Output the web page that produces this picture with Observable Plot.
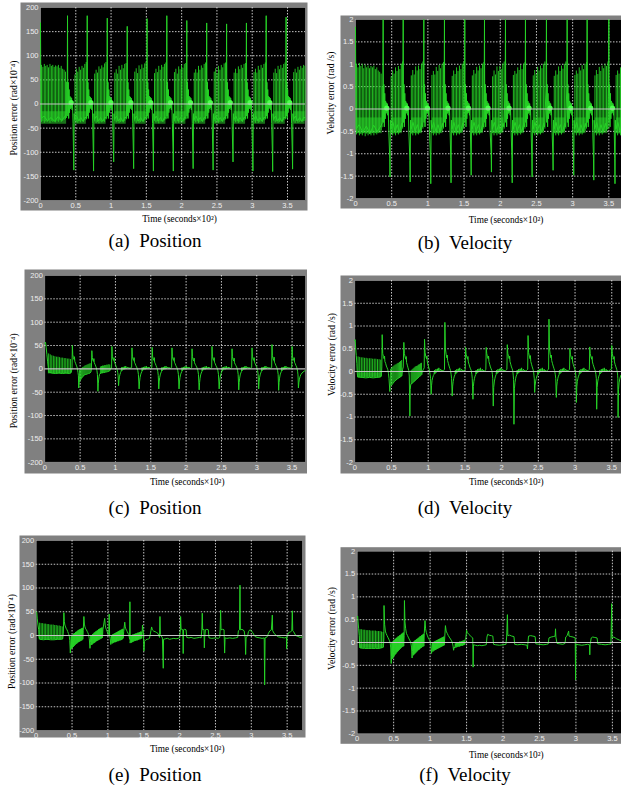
<!DOCTYPE html>
<html><head><meta charset="utf-8">
<script src="https://cdn.jsdelivr.net/npm/d3@7"></script>
<script src="https://cdn.jsdelivr.net/npm/@observablehq/plot@0.6"></script>
<style>
html,body{margin:0;padding:0;background:#fff;width:621px;height:794px;overflow:hidden;position:relative}
.panel{position:absolute}
.panel svg{max-width:none!important;display:block}
.cap{position:absolute;font-family:"Liberation Serif","Times New Roman",serif;font-size:19px;line-height:20px;color:#000;white-space:pre;transform:translateX(-50%)}
</style></head><body>
<script>
// ---------- tick values / labels ----------
const xTicks = [0, 0.5, 1, 1.5, 2, 2.5, 3, 3.5];
const xGrid = [0.5, 1, 1.5, 2, 2.5, 3, 3.5];
const posTicks = [-200, -150, -100, -50, 0, 50, 100, 150, 200];
const posGrid = [-150, -100, -50, 50, 100, 150];
const velTicks = [-2, -1.5, -1, -0.5, 0, 0.5, 1, 1.5, 2];
const velGrid = [-1.5, -1, -0.5, 0.5, 1, 1.5];
const posLabel = "Position error (rad×10⁻⁴)";
const velLabel = "Velocity error (rad /s)";
const timeLabel = "Time (seconds×10²)";
const captions = ["(a)  Position", "(b)  Velocity", "(c)  Position", "(d)  Velocity", "(e)  Position", "(f)  Velocity"];

// ---------- (a) position error: main trace [time x10^2 s, value x10^-4 rad] ----------
const posA = [
[0,168],[0.004,60],[0.008,-30],[0.05,-25],[0.1,-35],[0.15,-28],[0.2,-36],[0.25,-26],[0.3,-34],[0.35,-25],[0.372,-20],
[0.379,40],[0.383,183],[0.387,-25],[0.393,45],[0.399,-30],[0.405,30],[0.411,-18],[0.417,16],[0.423,-10],[0.429,14],[0.435,-8],[0.441,12],[0.447,-12],[0.453,5],[0.461,-40],[0.468,-100],[0.472,-137],[0.477,-20],[0.484,-32],[0.512,-25],[0.542,-35],[0.572,-28],[0.602,-36],[0.632,-27],[0.652,-30],
[0.658,40],[0.662,183],[0.666,-25],[0.672,45],[0.678,-30],[0.684,30],[0.69,-18],[0.696,16],[0.702,-10],[0.708,14],[0.714,-8],[0.72,12],[0.726,-12],[0.732,5],[0.74,-40],[0.748,-100],[0.752,-139],[0.757,-20],[0.764,-32],[0.792,-25],[0.822,-35],[0.852,-28],[0.882,-36],[0.912,-27],[0.932,-30],
[0.942,40],[0.946,178],[0.95,-25],[0.956,45],[0.962,-30],[0.968,30],[0.974,-18],[0.98,16],[0.986,-10],[0.992,14],[0.998,-8],[1.004,12],[1.01,-12],[1.016,5],[1.024,-40],[1.033,-95],[1.037,-120],[1.042,-20],[1.049,-32],[1.077,-25],[1.107,-35],[1.137,-28],[1.167,-36],[1.197,-27],[1.217,-30],
[1.225,40],[1.229,161],[1.233,-25],[1.239,45],[1.245,-30],[1.251,30],[1.257,-18],[1.263,16],[1.269,-10],[1.275,14],[1.281,-8],[1.287,12],[1.293,-12],[1.299,5],[1.307,-40],[1.316,-100],[1.32,-134],[1.325,-20],[1.332,-32],[1.36,-25],[1.39,-35],[1.42,-28],[1.45,-36],[1.48,-27],[1.5,-30],
[1.506,40],[1.51,177],[1.514,-25],[1.52,45],[1.526,-30],[1.532,30],[1.538,-18],[1.544,16],[1.55,-10],[1.556,14],[1.562,-8],[1.568,12],[1.574,-12],[1.58,5],[1.588,-40],[1.596,-100],[1.6,-139],[1.605,-20],[1.612,-32],[1.64,-25],[1.67,-35],[1.7,-28],[1.73,-36],[1.76,-27],[1.78,-30],
[1.786,40],[1.79,183],[1.794,-25],[1.8,45],[1.806,-30],[1.812,30],[1.818,-18],[1.824,16],[1.83,-10],[1.836,14],[1.842,-8],[1.848,12],[1.854,-12],[1.86,5],[1.868,-40],[1.878,-100],[1.882,-139],[1.887,-20],[1.894,-32],[1.922,-25],[1.952,-35],[1.982,-28],[2.012,-36],[2.042,-27],[2.062,-30],
[2.069,40],[2.073,173],[2.077,-25],[2.083,45],[2.089,-30],[2.095,30],[2.101,-18],[2.107,16],[2.113,-10],[2.119,14],[2.125,-8],[2.131,12],[2.137,-12],[2.143,5],[2.151,-40],[2.159,-100],[2.163,-134],[2.168,-20],[2.175,-32],[2.203,-25],[2.233,-35],[2.263,-28],[2.293,-36],[2.323,-27],[2.343,-30],
[2.351,40],[2.355,168],[2.359,-25],[2.365,45],[2.371,-30],[2.377,30],[2.383,-18],[2.389,16],[2.395,-10],[2.401,14],[2.407,-8],[2.413,12],[2.419,-12],[2.425,5],[2.433,-40],[2.442,-100],[2.446,-137],[2.451,-20],[2.458,-32],[2.486,-25],[2.516,-35],[2.546,-28],[2.576,-36],[2.606,-27],[2.626,-30],
[2.633,40],[2.637,166],[2.641,-25],[2.647,45],[2.653,-30],[2.659,30],[2.665,-18],[2.671,16],[2.677,-10],[2.683,14],[2.689,-8],[2.695,12],[2.701,-12],[2.707,5],[2.715,-40],[2.724,-95],[2.728,-120],[2.733,-20],[2.74,-32],[2.768,-25],[2.798,-35],[2.828,-28],[2.858,-36],[2.888,-27],[2.908,-30],
[2.914,40],[2.918,168],[2.922,-25],[2.928,45],[2.934,-30],[2.94,30],[2.946,-18],[2.952,16],[2.958,-10],[2.964,14],[2.97,-8],[2.976,12],[2.982,-12],[2.988,5],[2.996,-40],[3.006,-100],[3.01,-139],[3.015,-20],[3.022,-32],[3.05,-25],[3.08,-35],[3.11,-28],[3.14,-36],[3.17,-27],[3.19,-30],
[3.194,40],[3.198,183],[3.202,-25],[3.208,45],[3.214,-30],[3.22,30],[3.226,-18],[3.232,16],[3.238,-10],[3.244,14],[3.25,-8],[3.256,12],[3.262,-12],[3.268,5],[3.276,-40],[3.286,-100],[3.29,-140],[3.295,-20],[3.302,-32],[3.33,-25],[3.36,-35],[3.39,-28],[3.42,-36],[3.45,-27],[3.47,-30],
[3.476,40],[3.48,180],[3.484,-25],[3.49,45],[3.496,-30],[3.502,30],[3.508,-18],[3.514,16],[3.52,-10],[3.526,14],[3.532,-8],[3.538,12],[3.544,-12],[3.55,5],[3.558,-40],[3.568,-100],[3.572,-135],[3.577,-20],[3.584,-32],[3.612,-25],[3.642,-35],[3.672,-28],[3.702,-36],[3.732,-27],[3.752,-30]
];
// (a) oscillation spikes: [time, low, high]
const spikesA = [
[0.014,-38,80],[0.034,-36,76],[0.054,-40,82],[0.074,-37,78],[0.094,-38,80],[0.114,-35,75],[0.134,-40,82],[0.154,-36,78],[0.174,-38,80],[0.194,-37,76],[0.214,-39,79],[0.234,-36,77],[0.254,-38,80],[0.274,-35,74],[0.294,-38,78],[0.314,-36,72],[0.334,-34,70],[0.354,-32,66],[0.368,-30,45],
[0.488,-36,60],[0.508,-38,72],[0.528,-40,66],[0.548,-37,76],[0.568,-39,70],[0.588,-36,78],[0.608,-38,74],[0.628,-35,82],[0.648,-33,86],
[0.768,-37,62],[0.788,-40,70],[0.808,-38,64],[0.828,-41,77],[0.848,-37,72],[0.868,-39,79],[0.888,-36,75],[0.908,-38,83],[0.928,-33,86],
[1.053,-36,64],[1.073,-39,71],[1.093,-37,62],[1.113,-40,78],[1.133,-38,70],[1.153,-37,80],[1.173,-39,73],[1.193,-36,82],[1.213,-33,84],
[1.336,-37,66],[1.356,-40,73],[1.376,-37,63],[1.396,-40,79],[1.416,-38,71],[1.436,-36,81],[1.456,-38,74],[1.476,-35,83],[1.496,-33,86],
[1.616,-36,63],[1.636,-39,72],[1.656,-37,65],[1.676,-41,78],[1.696,-37,70],[1.716,-37,80],[1.736,-38,76],[1.756,-35,82],[1.776,-33,85],
[1.898,-37,65],[1.918,-40,72],[1.938,-37,62],[1.958,-40,77],[1.978,-38,71],[1.998,-36,80],[2.018,-38,74],[2.038,-35,82],[2.058,-33,84],
[2.179,-36,64],[2.199,-39,71],[2.219,-37,64],[2.239,-40,78],[2.259,-38,70],[2.279,-36,79],[2.299,-38,74],[2.319,-35,82],[2.339,-33,85],
[2.462,-37,66],[2.482,-40,73],[2.502,-36,63],[2.522,-40,78],[2.542,-38,70],[2.562,-36,80],[2.582,-38,75],[2.602,-35,83],[2.622,-33,85],
[2.744,-36,64],[2.764,-39,72],[2.784,-37,63],[2.804,-40,77],[2.824,-38,71],[2.844,-36,80],[2.864,-38,74],[2.884,-35,82],[2.904,-33,84],
[3.026,-37,65],[3.046,-40,72],[3.066,-36,64],[3.086,-40,78],[3.106,-38,70],[3.126,-36,80],[3.146,-38,74],[3.166,-35,82],[3.186,-33,85],
[3.306,-36,64],[3.326,-39,72],[3.346,-37,63],[3.366,-40,78],[3.386,-38,71],[3.406,-36,80],[3.426,-38,74],[3.446,-35,82],[3.466,-33,85],
[3.588,-37,65],[3.608,-40,72],[3.628,-36,64],[3.648,-40,76],[3.668,-38,70],[3.688,-36,78],[3.708,-38,74],[3.728,-36,80],[3.748,-36,78]
];
// dense lower band of (a): [t1, t2, low, high]
const lowBandA = [[0.01,0.37,-42,-16],[0.49,0.65,-42,-16],[0.77,0.93,-42,-16],[1.055,1.215,-42,-16],[1.34,1.498,-42,-16],[1.62,1.778,-42,-16],[1.9,2.06,-42,-16],[2.18,2.341,-42,-16],[2.465,2.624,-42,-16],[2.745,2.906,-42,-16],[3.03,3.188,-42,-16],[3.31,3.468,-42,-16],[3.59,3.75,-42,-16]];
const blobA = [[0.435,3],[0.714,3],[0.998,3],[1.281,3],[1.562,3],[1.842,3],[2.125,3],[2.407,3],[2.689,3],[2.97,3],[3.25,3],[3.532,3]];

// ---------- (b) velocity error: main trace [time, rad/s] ----------
const velB = [
[0,1.83],[0.004,0.6],[0.008,-0.45],[0.05,-0.35],[0.1,-0.52],[0.15,-0.38],[0.2,-0.55],[0.25,-0.36],[0.3,-0.5],[0.35,-0.38],[0.372,-0.3],
[0.378,0.5],[0.382,2],[0.386,-0.3],[0.392,0.55],[0.398,-0.4],[0.404,0.35],[0.41,-0.22],[0.416,0.18],[0.422,-0.1],[0.428,0.14],[0.434,-0.08],[0.44,0.12],[0.446,-0.14],[0.452,0.05],[0.46,-0.5],[0.473,-1.1],[0.477,-1.52],[0.482,-0.25],[0.489,-0.45],[0.517,-0.3],[0.547,-0.5],[0.577,-0.35],[0.607,-0.52],[0.637,-0.32],[0.649,-0.4],
[0.655,0.5],[0.659,2],[0.663,-0.3],[0.669,0.55],[0.675,-0.4],[0.681,0.35],[0.687,-0.22],[0.693,0.18],[0.699,-0.1],[0.705,0.14],[0.711,-0.08],[0.717,0.12],[0.723,-0.14],[0.729,0.05],[0.737,-0.5],[0.751,-1.15],[0.755,-1.63],[0.76,-0.25],[0.767,-0.45],[0.795,-0.3],[0.825,-0.5],[0.855,-0.35],[0.885,-0.52],[0.915,-0.32],[0.927,-0.4],
[0.94,0.5],[0.944,2],[0.948,-0.3],[0.954,0.55],[0.96,-0.4],[0.966,0.35],[0.972,-0.22],[0.978,0.18],[0.984,-0.1],[0.99,0.14],[0.996,-0.08],[1.002,0.12],[1.008,-0.14],[1.014,0.05],[1.022,-0.5],[1.036,-1.1],[1.04,-1.67],[1.045,-0.25],[1.052,-0.45],[1.08,-0.3],[1.11,-0.5],[1.14,-0.35],[1.17,-0.52],[1.2,-0.32],[1.212,-0.4],
[1.225,0.5],[1.229,2],[1.233,-0.3],[1.239,0.55],[1.245,-0.4],[1.251,0.35],[1.257,-0.22],[1.263,0.18],[1.269,-0.1],[1.275,0.14],[1.281,-0.08],[1.287,0.12],[1.293,-0.14],[1.299,0.05],[1.307,-0.5],[1.316,-1.1],[1.32,-1.65],[1.325,-0.25],[1.332,-0.45],[1.36,-0.3],[1.39,-0.5],[1.42,-0.35],[1.45,-0.52],[1.48,-0.32],[1.492,-0.4],
[1.506,0.5],[1.51,2],[1.514,-0.3],[1.52,0.55],[1.526,-0.4],[1.532,0.35],[1.538,-0.22],[1.544,0.18],[1.55,-0.1],[1.556,0.14],[1.562,-0.08],[1.568,0.12],[1.574,-0.14],[1.58,0.05],[1.587,-0.5],[1.594,-1.05],[1.598,-1.48],[1.603,-0.25],[1.61,-0.45],[1.638,-0.3],[1.668,-0.5],[1.698,-0.35],[1.728,-0.52],[1.758,-0.32],[1.77,-0.4],
[1.778,0.5],[1.782,2],[1.786,-0.3],[1.792,0.55],[1.798,-0.4],[1.804,0.35],[1.81,-0.22],[1.816,0.18],[1.822,-0.1],[1.828,0.14],[1.834,-0.08],[1.84,0.12],[1.846,-0.14],[1.852,0.05],[1.86,-0.5],[1.874,-1.0],[1.878,-1.41],[1.883,-0.25],[1.89,-0.45],[1.918,-0.3],[1.948,-0.5],[1.978,-0.35],[2.008,-0.52],[2.038,-0.32],[2.05,-0.4],
[2.068,0.5],[2.072,2],[2.076,-0.3],[2.082,0.55],[2.088,-0.4],[2.094,0.35],[2.1,-0.22],[2.106,0.18],[2.112,-0.1],[2.118,0.14],[2.124,-0.08],[2.13,0.12],[2.136,-0.14],[2.142,0.05],[2.15,-0.5],[2.161,-1.1],[2.165,-1.65],[2.17,-0.25],[2.177,-0.45],[2.205,-0.3],[2.235,-0.5],[2.265,-0.35],[2.295,-0.52],[2.325,-0.32],[2.337,-0.4],
[2.344,0.5],[2.348,2],[2.352,-0.3],[2.358,0.55],[2.364,-0.4],[2.37,0.35],[2.376,-0.22],[2.382,0.18],[2.388,-0.1],[2.394,0.14],[2.4,-0.08],[2.406,0.12],[2.412,-0.14],[2.418,0.05],[2.426,-0.5],[2.436,-1.1],[2.44,-1.52],[2.445,-0.25],[2.452,-0.45],[2.48,-0.3],[2.51,-0.5],[2.54,-0.35],[2.57,-0.52],[2.6,-0.32],[2.612,-0.4],
[2.634,0.5],[2.638,2],[2.642,-0.3],[2.648,0.55],[2.654,-0.4],[2.66,0.35],[2.666,-0.22],[2.672,0.18],[2.678,-0.1],[2.684,0.14],[2.69,-0.08],[2.696,0.12],[2.702,-0.14],[2.708,0.05],[2.716,-0.5],[2.726,-1.0],[2.73,-1.37],[2.735,-0.25],[2.742,-0.45],[2.77,-0.3],[2.8,-0.5],[2.83,-0.35],[2.86,-0.52],[2.89,-0.32],[2.902,-0.4],
[2.92,0.5],[2.924,2],[2.928,-0.3],[2.934,0.55],[2.94,-0.4],[2.946,0.35],[2.952,-0.22],[2.958,0.18],[2.964,-0.1],[2.97,0.14],[2.976,-0.08],[2.982,0.12],[2.988,-0.14],[2.994,0.05],[3.002,-0.5],[3.011,-1.05],[3.015,-1.48],[3.02,-0.25],[3.027,-0.45],[3.055,-0.3],[3.085,-0.5],[3.115,-0.35],[3.145,-0.52],[3.175,-0.32],[3.187,-0.4],
[3.196,0.5],[3.2,2],[3.204,-0.3],[3.21,0.55],[3.216,-0.4],[3.222,0.35],[3.228,-0.22],[3.234,0.18],[3.24,-0.1],[3.246,0.14],[3.252,-0.08],[3.258,0.12],[3.264,-0.14],[3.27,0.05],[3.278,-0.5],[3.288,-1.1],[3.292,-1.59],[3.297,-0.25],[3.304,-0.45],[3.332,-0.3],[3.362,-0.5],[3.392,-0.35],[3.422,-0.52],[3.452,-0.32],[3.464,-0.4],[3.485,-0.45],
[3.496,0.5],[3.5,2],[3.504,-0.3],[3.51,0.55],[3.516,-0.4],[3.522,0.35],[3.528,-0.22],[3.534,0.18],[3.54,-0.1],[3.546,0.14],[3.552,-0.08],[3.558,0.12],[3.564,-0.14],[3.57,0.05],[3.575,-0.5],[3.581,-1.1],[3.585,-1.67],[3.59,-0.25],[3.597,-0.45],[3.625,-0.3],[3.655,-0.5],[3.685,-0.35],[3.715,-0.52],[3.745,-0.32]
];
// (b) oscillation spikes: [time, low, high]
const spikesB = [
[0.014,-0.58,1.0],[0.034,-0.55,0.92],[0.054,-0.6,1.02],[0.074,-0.57,0.95],[0.094,-0.6,1.0],[0.114,-0.55,0.9],[0.134,-0.62,0.98],[0.154,-0.56,0.92],[0.174,-0.6,0.96],[0.194,-0.57,0.9],[0.214,-0.6,0.95],[0.234,-0.55,0.92],[0.254,-0.6,0.96],[0.274,-0.55,0.88],[0.294,-0.58,0.92],[0.314,-0.54,0.85],[0.334,-0.5,0.82],[0.354,-0.48,0.78],[0.368,-0.42,0.5],
[0.493,-0.55,0.72],[0.513,-0.6,0.85],[0.533,-0.56,0.78],[0.553,-0.6,0.92],[0.573,-0.55,0.84],[0.593,-0.58,0.95],[0.613,-0.52,0.88],[0.633,-0.5,1.0],[0.651,-0.45,1.05],
[0.771,-0.56,0.74],[0.791,-0.6,0.86],[0.811,-0.55,0.76],[0.831,-0.6,0.94],[0.851,-0.56,0.85],[0.871,-0.58,0.96],[0.891,-0.53,0.88],[0.911,-0.5,1.0],[0.931,-0.45,1.05],
[1.056,-0.55,0.75],[1.076,-0.6,0.84],[1.096,-0.56,0.76],[1.116,-0.6,0.93],[1.136,-0.55,0.84],[1.156,-0.58,0.97],[1.176,-0.52,0.9],[1.196,-0.5,1.0],[1.216,-0.45,1.04],
[1.336,-0.55,0.73],[1.356,-0.6,0.85],[1.376,-0.55,0.77],[1.396,-0.6,0.92],[1.416,-0.56,0.84],[1.436,-0.58,0.96],[1.456,-0.52,0.88],[1.476,-0.5,1.0],[1.496,-0.45,1.05],
[1.614,-0.55,0.74],[1.634,-0.6,0.86],[1.654,-0.56,0.78],[1.674,-0.6,0.93],[1.694,-0.55,0.85],[1.714,-0.58,0.96],[1.734,-0.53,0.9],[1.754,-0.5,1.0],[1.774,-0.45,1.04],
[1.894,-0.55,0.72],[1.914,-0.6,0.85],[1.934,-0.55,0.76],[1.954,-0.6,0.94],[1.974,-0.56,0.84],[1.994,-0.58,0.95],[2.014,-0.52,0.88],[2.034,-0.5,1.0],[2.054,-0.45,1.05],
[2.181,-0.55,0.75],[2.201,-0.6,0.84],[2.221,-0.56,0.78],[2.241,-0.6,0.92],[2.261,-0.55,0.86],[2.281,-0.58,0.97],[2.301,-0.52,0.88],[2.321,-0.5,1.0],[2.341,-0.45,1.04],
[2.456,-0.55,0.74],[2.476,-0.6,0.86],[2.496,-0.55,0.77],[2.516,-0.6,0.93],[2.536,-0.56,0.85],[2.556,-0.58,0.96],[2.576,-0.53,0.9],[2.596,-0.5,1.0],[2.616,-0.45,1.05],
[2.746,-0.55,0.73],[2.766,-0.6,0.85],[2.786,-0.56,0.76],[2.806,-0.6,0.94],[2.826,-0.55,0.84],[2.846,-0.58,0.96],[2.866,-0.52,0.89],[2.886,-0.5,1.0],[2.906,-0.45,1.05],
[3.031,-0.55,0.75],[3.051,-0.6,0.85],[3.071,-0.55,0.78],[3.091,-0.6,0.92],[3.111,-0.56,0.85],[3.131,-0.58,0.97],[3.151,-0.53,0.88],[3.171,-0.5,1.0],[3.191,-0.45,1.04],
[3.308,-0.55,0.74],[3.328,-0.6,0.86],[3.348,-0.56,0.77],[3.368,-0.6,0.93],[3.388,-0.55,0.84],[3.408,-0.58,0.96],[3.428,-0.52,0.9],[3.448,-0.5,1.0],[3.468,-0.5,0.95],[3.488,-0.45,1.05],
[3.601,-0.55,0.75],[3.621,-0.6,0.85],[3.641,-0.56,0.78],[3.661,-0.6,0.92],[3.681,-0.55,0.85],[3.701,-0.58,0.95],[3.721,-0.53,0.9],[3.741,-0.5,0.98]
];
const lowBandB = [[0.01,0.37,-0.55,-0.2],[0.497,0.647,-0.55,-0.2],[0.775,0.925,-0.55,-0.2],[1.06,1.21,-0.55,-0.2],[1.34,1.49,-0.55,-0.2],[1.618,1.768,-0.55,-0.2],[1.898,2.048,-0.55,-0.2],[2.185,2.335,-0.55,-0.2],[2.46,2.61,-0.55,-0.2],[2.75,2.9,-0.55,-0.2],[3.035,3.185,-0.55,-0.2],[3.312,3.485,-0.55,-0.2],[3.605,3.745,-0.55,-0.2]];
const blobB = [[0.432,0.02],[0.709,0.02],[0.994,0.02],[1.279,0.02],[1.56,0.02],[1.832,0.02],[2.122,0.02],[2.398,0.02],[2.688,0.02],[2.974,0.02],[3.25,0.02],[3.55,0.02]];

// ---------- (c) position error ----------
const posC = [
[0,55],[0.01,57],[0.02,45],[0.03,30],[0.04,15],[0.05,2],[0.06,-7],[0.1,-9],[0.15,-10],[0.2,-9],[0.25,-10],[0.3,-9],[0.35,-10],[0.375,-8],
[0.385,2],[0.39,50],[0.396,30],[0.405,24],[0.415,20],[0.42,26],[0.425,16],[0.435,12],[0.445,8],[0.455,4],[0.463,0],[0.47,-8],[0.476,-15],[0.48,-41],
[0.485,-30],[0.5,-25],[0.52,-20],[0.54,-16],[0.56,-13],[0.58,-12],[0.6,-11],[0.62,-10],[0.64,-9],[0.655,-6],[0.66,2],
[0.666,39],[0.672,24],[0.68,19],[0.69,16],[0.695,22],[0.7,13],[0.71,10],[0.72,6],[0.73,2],[0.738,-4],[0.745,-12],[0.752,-48],
[0.757,-32],[0.763,-22],[0.769,-16],[0.775,-12],[0.781,-10],[0.8,-9],[0.83,-8],[0.86,-7],[0.89,-6],[0.92,-4],[0.935,2],[0.945,1],
[0.95,48],[0.956,27],[0.965,21],[0.975,18],[0.98,24],[0.985,14],[0.995,11],[1.005,7],[1.015,3],[1.025,-2],[1.033,-8],[1.038,-15],[1.044,-36],
[1.05,-25],[1.056,-17],[1.064,-12],[1.072,-8],[1.081,-5],[1.086,3],[1.091,-4],[1.101,-2],[1.106,4],[1.111,-1],[1.121,0],[1.126,5],[1.131,-1],[1.141,2],[1.146,6],[1.151,0],[1.161,2],[1.171,4],[1.181,1],[1.191,3],[1.201,0],[1.211,2],[1.229,3],
[1.234,45],[1.24,27],[1.249,21],[1.259,18],[1.264,24],[1.269,14],[1.279,11],[1.289,7],[1.299,4],[1.309,1],[1.317,-4],[1.325,-12],[1.335,-43],
[1.341,-28],[1.348,-19],[1.356,-13],[1.364,-9],[1.373,-6],[1.378,3],[1.383,-4],[1.393,-2],[1.398,4],[1.403,-1],[1.413,0],[1.418,5],[1.423,-1],[1.433,2],[1.438,6],[1.443,0],[1.453,2],[1.463,4],[1.473,1],[1.483,3],[1.493,0],[1.503,2],[1.515,3],
[1.52,46],[1.526,27],[1.535,21],[1.545,18],[1.55,24],[1.555,14],[1.565,11],[1.575,7],[1.585,3],[1.593,0],[1.6,-6],[1.606,-14],[1.613,-43],
[1.619,-28],[1.626,-19],[1.634,-13],[1.642,-9],[1.651,-6],[1.656,3],[1.661,-4],[1.671,-2],[1.676,4],[1.681,-1],[1.691,0],[1.696,5],[1.701,-1],[1.711,2],[1.716,6],[1.721,0],[1.731,2],[1.741,4],[1.751,1],[1.761,3],[1.771,0],[1.781,2],[1.795,3],
[1.8,45],[1.806,27],[1.815,21],[1.825,18],[1.83,24],[1.835,14],[1.845,11],[1.855,7],[1.865,4],[1.875,1],[1.883,-4],[1.891,-12],[1.9,-43],
[1.906,-28],[1.913,-19],[1.921,-13],[1.929,-9],[1.938,-6],[1.943,3],[1.948,-4],[1.958,-2],[1.963,4],[1.968,-1],[1.978,0],[1.983,5],[1.988,-1],[1.998,2],[2.003,6],[2.008,0],[2.018,2],[2.028,4],[2.038,1],[2.048,3],[2.058,0],[2.068,2],[2.079,3],
[2.084,43],[2.09,26],[2.099,20],[2.109,17],[2.114,23],[2.119,13],[2.129,10],[2.139,7],[2.149,4],[2.159,1],[2.167,-4],[2.175,-12],[2.185,-45],
[2.191,-29],[2.198,-20],[2.206,-13],[2.214,-9],[2.223,-6],[2.228,3],[2.233,-4],[2.243,-2],[2.248,4],[2.253,-1],[2.263,0],[2.268,5],[2.273,-1],[2.283,2],[2.288,6],[2.293,0],[2.303,2],[2.313,4],[2.323,1],[2.333,3],[2.343,0],[2.353,2],[2.362,3],
[2.367,48],[2.373,27],[2.382,21],[2.392,18],[2.397,24],[2.402,14],[2.412,11],[2.422,7],[2.432,4],[2.442,1],[2.45,-4],[2.458,-12],[2.468,-43],
[2.474,-28],[2.481,-19],[2.489,-13],[2.497,-9],[2.506,-6],[2.511,3],[2.516,-4],[2.526,-2],[2.531,4],[2.536,-1],[2.546,0],[2.551,5],[2.556,-1],[2.566,2],[2.571,6],[2.576,0],[2.586,2],[2.596,4],[2.606,1],[2.616,3],[2.626,0],[2.636,2],[2.645,3],
[2.65,43],[2.656,26],[2.665,20],[2.675,17],[2.68,23],[2.685,13],[2.695,10],[2.705,7],[2.715,4],[2.723,1],[2.73,-4],[2.737,-12],[2.745,-45],
[2.751,-29],[2.758,-20],[2.766,-13],[2.774,-9],[2.783,-6],[2.788,3],[2.793,-4],[2.803,-2],[2.808,4],[2.813,-1],[2.823,0],[2.828,5],[2.833,-1],[2.843,2],[2.848,6],[2.853,0],[2.863,2],[2.873,4],[2.883,1],[2.893,3],[2.903,0],[2.913,2],[2.928,3],
[2.933,45],[2.939,27],[2.948,21],[2.958,18],[2.963,24],[2.968,14],[2.978,11],[2.988,7],[2.998,4],[3.006,1],[3.013,-4],[3.02,-12],[3.027,-43],
[3.033,-28],[3.04,-19],[3.048,-13],[3.056,-9],[3.065,-6],[3.07,3],[3.075,-4],[3.085,-2],[3.09,4],[3.095,-1],[3.105,0],[3.11,5],[3.115,-1],[3.125,2],[3.13,6],[3.135,0],[3.145,2],[3.155,4],[3.165,1],[3.175,3],[3.185,0],[3.195,2],[3.211,3],
[3.216,52],[3.222,28],[3.231,22],[3.241,18],[3.246,25],[3.251,14],[3.261,11],[3.271,7],[3.281,4],[3.289,1],[3.296,-4],[3.303,-12],[3.31,-46],
[3.316,-29],[3.323,-20],[3.331,-13],[3.339,-9],[3.348,-6],[3.353,3],[3.358,-4],[3.368,-2],[3.373,4],[3.378,-1],[3.388,0],[3.393,5],[3.398,-1],[3.408,2],[3.413,6],[3.418,0],[3.428,2],[3.438,4],[3.448,1],[3.458,3],[3.468,0],[3.478,2],[3.495,3],
[3.5,48],[3.506,27],[3.515,21],[3.525,18],[3.53,24],[3.535,14],[3.545,11],[3.555,7],[3.565,4],[3.572,0],[3.578,-5],[3.584,-13],[3.59,-41],
[3.596,-30],[3.604,-22],[3.614,-16],[3.626,-12],[3.64,-9],[3.655,-7],[3.67,-5],[3.685,-4]
];
const spikesC = [
[0.055,-10,32],[0.077,-10,30],[0.099,-10,28],[0.121,-10,27],[0.143,-10,26],[0.165,-10,25],[0.187,-10,25],[0.209,-10,24],[0.231,-10,23],[0.253,-10,23],[0.275,-10,22],[0.297,-10,22],[0.319,-10,21],[0.341,-10,21],[0.363,-10,20],
[0.492,-28,-3],[0.507,-24,-1],[0.522,-21,1],[0.537,-18,3],[0.552,-16,4],[0.567,-14,6],[0.582,-13,7],[0.597,-12,8],[0.612,-11,9],[0.627,-10,10],[0.642,-9,11],
[0.787,-11,4],[0.802,-10,5],[0.817,-10,6],[0.832,-9,6],[0.847,-9,7],[0.862,-8,7],[0.877,-7,8],[0.892,-7,8],[0.907,-6,9],[0.92,-5,8]
];
const lowBandC = [[0.05,0.375,-11,-3]];

// ---------- (d) velocity error ----------
const velD = [
[0,0.68],[0.005,0.7],[0.012,0.5],[0.02,0.35],[0.028,0.18],[0.034,-0.05],[0.04,-0.12],[0.1,-0.13],[0.15,-0.14],[0.2,-0.13],[0.25,-0.14],[0.3,-0.13],[0.35,-0.12],[0.362,-0.1],[0.368,0.1],
[0.373,0.81],[0.38,0.4],[0.39,0.33],[0.4,0.28],[0.405,0.34],[0.41,0.22],[0.42,0.18],[0.43,0.12],[0.44,0.08],[0.45,0.04],[0.458,-0.04],[0.466,-0.15],[0.477,-0.44],
[0.482,-0.33],[0.5,-0.3],[0.52,-0.26],[0.54,-0.22],[0.56,-0.19],[0.58,-0.16],[0.6,-0.14],[0.62,-0.12],[0.64,-0.1],[0.652,0.05],[0.66,0.1],
[0.668,0.64],[0.675,0.4],[0.685,0.32],[0.695,0.27],[0.7,0.33],[0.705,0.2],[0.715,0.14],[0.725,0.08],[0.735,0.02],[0.742,-0.1],[0.75,-0.98],
[0.755,-0.4],[0.762,-0.28],[0.78,-0.26],[0.8,-0.23],[0.82,-0.2],[0.84,-0.17],[0.86,-0.14],[0.88,-0.11],[0.9,-0.09],[0.912,-0.07],[0.92,0.0],[0.935,0.05],[0.945,0.08],
[0.95,0.71],[0.957,0.42],[0.967,0.33],[0.977,0.28],[0.982,0.34],[0.987,0.22],[0.997,0.15],[1.007,0.09],[1.017,0.03],[1.025,-0.06],[1.032,-0.15],[1.04,-0.5],
[1.046,-0.3],[1.052,-0.2],[1.06,-0.14],[1.07,-0.09],[1.08,-0.06],[1.085,0.03],[1.09,-0.05],[1.1,-0.03],[1.105,0.05],[1.11,-0.02],[1.12,0],[1.125,0.06],[1.13,-0.01],[1.14,0.02],[1.145,0.08],[1.15,0],[1.16,0.02],[1.17,0.05],[1.18,0.01],[1.19,0.03],[1.2,0],[1.21,0.02],[1.222,0.05],
[1.227,1.08],[1.234,0.5],[1.244,0.38],[1.254,0.3],[1.259,0.36],[1.264,0.24],[1.274,0.18],[1.284,0.12],[1.294,0.07],[1.304,0.02],[1.312,-0.06],[1.318,-0.15],[1.327,-0.54],
[1.333,-0.32],[1.34,-0.22],[1.348,-0.15],[1.356,-0.1],[1.365,-0.07],[1.37,0.03],[1.375,-0.05],[1.385,-0.03],[1.39,0.05],[1.395,-0.02],[1.405,0],[1.41,0.06],[1.415,-0.01],[1.425,0.02],[1.43,0.08],[1.435,0],[1.445,0.02],[1.455,0.05],[1.465,0.01],[1.475,0.03],[1.485,0],[1.495,0.02],[1.504,0.05],
[1.509,0.53],[1.516,0.38],[1.526,0.32],[1.536,0.27],[1.541,0.33],[1.546,0.21],[1.556,0.16],[1.566,0.1],[1.576,0.06],[1.586,0.02],[1.594,-0.06],[1.6,-0.15],[1.609,-0.61],
[1.615,-0.33],[1.622,-0.22],[1.63,-0.15],[1.638,-0.1],[1.647,-0.07],[1.652,0.03],[1.657,-0.05],[1.667,-0.03],[1.672,0.05],[1.677,-0.02],[1.687,0],[1.692,0.06],[1.697,-0.01],[1.707,0.02],[1.712,0.08],[1.717,0],[1.727,0.02],[1.737,0.05],[1.747,0.01],[1.757,0.03],[1.767,0],[1.777,0.02],[1.785,0.05],
[1.79,0.53],[1.797,0.4],[1.807,0.32],[1.817,0.28],[1.822,0.34],[1.827,0.22],[1.837,0.16],[1.847,0.1],[1.857,0.06],[1.867,0.02],[1.874,-0.06],[1.879,-0.15],[1.886,-0.76],
[1.892,-0.35],[1.9,-0.23],[1.908,-0.16],[1.916,-0.1],[1.925,-0.07],[1.93,0.03],[1.935,-0.05],[1.945,-0.03],[1.95,0.05],[1.955,-0.02],[1.965,0],[1.97,0.06],[1.975,-0.01],[1.985,0.02],[1.99,0.08],[1.995,0],[2.005,0.02],[2.015,0.05],[2.025,0.01],[2.035,0.03],[2.045,0],[2.055,0.02],[2.072,0.05],
[2.077,0.59],[2.084,0.4],[2.094,0.33],[2.104,0.28],[2.109,0.34],[2.114,0.22],[2.124,0.16],[2.134,0.1],[2.144,0.06],[2.152,0.01],[2.158,-0.08],[2.163,-0.18],[2.168,-1.16],
[2.174,-0.38],[2.182,-0.24],[2.19,-0.16],[2.198,-0.1],[2.207,-0.07],[2.212,0.03],[2.217,-0.05],[2.227,-0.03],[2.232,0.05],[2.237,-0.02],[2.247,0],[2.252,0.06],[2.257,-0.01],[2.267,0.02],[2.272,0.08],[2.277,0],[2.287,0.02],[2.297,0.05],[2.307,0.01],[2.317,0.03],[2.327,0],[2.337,0.02],[2.355,0.05],
[2.36,0.79],[2.367,0.42],[2.377,0.34],[2.387,0.28],[2.392,0.35],[2.397,0.22],[2.407,0.16],[2.417,0.1],[2.427,0.05],[2.435,0],[2.44,-0.08],[2.445,-0.16],[2.45,-0.46],
[2.456,-0.3],[2.464,-0.21],[2.472,-0.15],[2.48,-0.1],[2.489,-0.07],[2.494,0.03],[2.499,-0.05],[2.509,-0.03],[2.514,0.05],[2.519,-0.02],[2.529,0],[2.534,0.06],[2.539,-0.01],[2.549,0.02],[2.554,0.08],[2.559,0],[2.569,0.02],[2.579,0.05],[2.589,0.01],[2.599,0.03],[2.609,0],[2.619,0.02],[2.64,0.05],
[2.645,1.15],[2.652,0.5],[2.662,0.38],[2.672,0.3],[2.677,0.36],[2.682,0.24],[2.692,0.18],[2.702,0.12],[2.712,0.07],[2.722,0.02],[2.73,-0.06],[2.737,-0.15],[2.745,-0.57],
[2.751,-0.32],[2.758,-0.22],[2.766,-0.15],[2.774,-0.1],[2.783,-0.07],[2.788,0.03],[2.793,-0.05],[2.803,-0.03],[2.808,0.05],[2.813,-0.02],[2.823,0],[2.828,0.06],[2.833,-0.01],[2.843,0.02],[2.848,0.08],[2.853,0],[2.863,0.02],[2.873,0.05],[2.883,0.01],[2.893,0.03],[2.903,0],[2.913,0.02],[2.925,0.05],
[2.93,0.51],[2.937,0.38],[2.947,0.31],[2.957,0.27],[2.962,0.33],[2.967,0.21],[2.977,0.15],[2.987,0.1],[2.997,0.05],[3.005,0],[3.01,-0.08],[3.014,-0.16],[3.018,-0.68],
[3.024,-0.34],[3.031,-0.22],[3.039,-0.15],[3.047,-0.1],[3.056,-0.07],[3.061,0.03],[3.066,-0.05],[3.076,-0.03],[3.081,0.05],[3.086,-0.02],[3.096,0],[3.101,0.06],[3.106,-0.01],[3.116,0.02],[3.121,0.08],[3.126,0],[3.136,0.02],[3.146,0.05],[3.156,0.01],[3.166,0.03],[3.176,0],[3.186,0.02],[3.195,0.05],
[3.2,0.54],[3.207,0.39],[3.217,0.32],[3.227,0.27],[3.232,0.33],[3.237,0.21],[3.247,0.15],[3.257,0.1],[3.267,0.05],[3.277,0.01],[3.284,-0.07],[3.29,-0.16],[3.295,-0.83],
[3.301,-0.35],[3.308,-0.23],[3.316,-0.16],[3.324,-0.1],[3.333,-0.07],[3.338,0.03],[3.343,-0.05],[3.353,-0.03],[3.358,0.05],[3.363,-0.02],[3.373,0],[3.378,0.06],[3.383,-0.01],[3.393,0.02],[3.398,0.08],[3.403,0],[3.413,0.02],[3.423,0.05],[3.433,0.01],[3.443,0.03],[3.453,0],[3.463,0.02],[3.495,0.05],
[3.5,0.57],[3.507,0.4],[3.517,0.32],[3.527,0.27],[3.532,0.33],[3.537,0.21],[3.547,0.15],[3.557,0.1],[3.567,0.05],[3.575,0],[3.58,-0.08],[3.583,-0.16],[3.586,-1.01],
[3.592,-0.4],[3.6,-0.25],[3.61,-0.16],[3.62,-0.1],[3.635,-0.06],[3.65,-0.03],[3.67,0]
];
const spikesD = [
[0.045,-0.13,0.32],[0.067,-0.13,0.31],[0.089,-0.13,0.3],[0.111,-0.13,0.3],[0.133,-0.13,0.29],[0.155,-0.13,0.29],[0.177,-0.13,0.28],[0.199,-0.13,0.28],[0.221,-0.13,0.28],[0.243,-0.13,0.27],[0.265,-0.13,0.27],[0.287,-0.13,0.27],[0.309,-0.13,0.26],[0.331,-0.13,0.26],[0.353,-0.13,0.25],
[0.488,-0.32,0.05],[0.503,-0.3,0.08],[0.518,-0.27,0.1],[0.533,-0.24,0.12],[0.548,-0.22,0.14],[0.563,-0.2,0.15],[0.578,-0.18,0.17],[0.593,-0.16,0.18],[0.608,-0.14,0.2],[0.623,-0.13,0.22],[0.638,-0.11,0.24],
[0.768,-0.29,0.02],[0.782,-0.27,0.04],[0.796,-0.25,0.06],[0.81,-0.23,0.08],[0.824,-0.21,0.1],[0.838,-0.19,0.11],[0.852,-0.17,0.12],[0.866,-0.15,0.14],[0.88,-0.12,0.15],[0.894,-0.1,0.17],[0.908,-0.08,0.18]
];
const lowBandD = [[0.04,0.36,-0.14,-0.03]];

// ---------- (e) position error ----------
const posE = [
[0,50],[0.008,48],[0.015,35],[0.025,22],[0.035,12],[0.04,-3],[0.05,-8],[0.1,-9],[0.15,-8],[0.2,-9],[0.25,-9],[0.3,-8],[0.35,-8],[0.37,-7],[0.378,5],
[0.386,48],[0.392,30],[0.4,22],[0.41,18],[0.42,14],[0.43,12],[0.44,8],[0.45,4],[0.46,0],[0.468,-10],[0.476,-37],
[0.482,-20],[0.488,-2],[0.494,-28],[0.5,0],[0.506,-26],[0.512,2],[0.518,-24],[0.524,4],[0.53,-22],[0.536,5],[0.542,-20],[0.548,7],[0.554,-18],[0.56,8],[0.566,-17],[0.572,9],[0.578,-15],[0.584,11],[0.59,-14],[0.596,12],[0.602,-13],[0.608,13],[0.614,-12],[0.62,14],[0.626,-11],[0.632,15],[0.638,-10],[0.644,16],[0.65,-8],[0.656,10],
[0.665,40],[0.672,24],[0.68,18],[0.69,14],[0.7,12],[0.71,9],[0.72,6],[0.73,2],[0.74,-6],[0.75,-27],
[0.756,-15],[0.762,0],[0.768,-20],[0.774,1],[0.78,-19],[0.786,3],[0.792,-17],[0.798,4],[0.804,-16],[0.81,6],[0.816,-15],[0.822,7],[0.828,-13],[0.834,9],[0.84,-12],[0.846,10],[0.852,-11],[0.858,11],[0.864,-10],[0.87,13],[0.876,-9],[0.882,14],[0.888,-8],[0.894,15],[0.9,-7],[0.906,16],[0.912,-6],[0.918,17],[0.924,-5],[0.93,12],
[0.955,36],[0.962,22],[0.97,16],[0.98,12],[0.99,8],[1.0,4],[1.012,2],[1.018,45],[1.024,0],[1.032,-6],[1.04,-19],
[1.046,-10],[1.052,1],[1.058,-17],[1.064,2],[1.07,-16],[1.076,3],[1.082,-15],[1.088,4],[1.094,-14],[1.1,5],[1.106,-14],[1.112,6],[1.118,-13],[1.124,7],[1.13,-12],[1.136,8],[1.142,-12],[1.148,9],[1.154,-11],[1.16,10],[1.166,-10],[1.172,11],[1.178,-10],[1.184,12],[1.19,-9],[1.196,13],[1.202,-8],[1.208,14],[1.214,-6],[1.22,8],
[1.235,28],[1.242,18],[1.25,14],[1.26,11],[1.27,8],[1.28,5],[1.29,2],[1.298,-4],[1.304,-8],[1.307,71],[1.31,-16],
[1.316,-10],[1.322,0],[1.328,-15],[1.334,1],[1.34,-14],[1.346,2],[1.352,-13],[1.358,2],[1.364,-12],[1.37,3],[1.376,-11],[1.382,4],[1.388,-11],[1.394,4],[1.4,-10],[1.406,5],[1.412,-10],[1.418,6],[1.424,-9],[1.43,6],[1.436,-8],[1.442,7],[1.448,-8],[1.454,8],[1.46,-7],[1.466,8],[1.472,-6],[1.478,5],
[1.482,22],[1.49,12],[1.496,5],[1.502,-33],
[1.51,-12],[1.53,-9],[1.55,-8],[1.57,-7],[1.58,-6],[1.6,10],[1.61,18],[1.62,12],[1.64,9],[1.66,8],[1.68,6],[1.7,4],[1.72,-4],[1.726,40],[1.732,2],[1.76,-5],[1.772,-69],[1.776,-8],
[1.8,-7],[1.83,-6],[1.86,-8],[1.89,-7],[1.92,-6],[1.95,-7],[1.98,-6],[2.0,-5],
[2.012,14],[2.014,40],[2.02,14],[2.045,12],[2.05,-38],[2.055,12],[2.07,13],[2.09,12],[2.1,-4],[2.13,-5],[2.16,-4],[2.2,-6],[2.24,-5],[2.28,-4],[2.3,-5],
[2.31,12],[2.316,47],[2.322,12],[2.34,13],[2.345,-26],[2.35,-4],[2.36,12],[2.38,13],[2.4,12],[2.41,-5],[2.45,-6],[2.5,-5],[2.54,-6],[2.56,-4],
[2.565,12],[2.572,53],[2.578,12],[2.6,13],[2.62,12],[2.628,-37],[2.634,-5],[2.66,-6],[2.7,-5],[2.74,-6],[2.78,-5],[2.81,-4],
[2.82,10],[2.835,12],[2.842,106],[2.848,12],[2.87,13],[2.9,10],[2.915,-5],[2.921,-40],[2.927,-5],[2.95,0],[2.96,8],[2.98,12],[3.0,10],[3.02,6],[3.05,-2],[3.08,-4],[3.12,-5],[3.15,-6],[3.18,-5],[3.186,-104],[3.192,-5],[3.22,-3],[3.24,5],[3.26,10],[3.28,12],[3.293,43],[3.298,10],[3.32,4],[3.35,0],[3.38,-3],[3.42,-4],[3.46,-5],[3.49,-4],[3.493,-28],[3.497,-4],[3.52,6],[3.55,8],[3.565,10],[3.572,52],[3.578,10],[3.59,8],[3.62,0],[3.65,-2],[3.68,-4],[3.71,-3]
];
const spikesE = [
[0.048,-9,26],[0.069,-9,25],[0.09,-9,25],[0.111,-9,24],[0.132,-9,24],[0.153,-9,23],[0.174,-9,23],[0.195,-9,22],[0.216,-9,22],[0.237,-9,22],[0.258,-9,21],[0.279,-9,21],[0.3,-9,20],[0.321,-9,20],[0.342,-9,19],[0.363,-9,18]
];
const lowBandE = [[0.04,0.37,-9,-2]];

// ---------- (f) velocity error ----------
const velF = [
[0,0.56],[0.006,0.58],[0.012,0.45],[0.02,0.3],[0.028,0.15],[0.034,-0.05],[0.04,-0.12],[0.1,-0.13],[0.15,-0.13],[0.2,-0.13],[0.25,-0.13],[0.3,-0.13],[0.35,-0.11],[0.36,-0.1],
[0.366,0.1],[0.368,0.81],[0.376,0.4],[0.386,0.25],[0.396,0.2],[0.41,0.15],[0.425,0.1],[0.44,0.05],[0.452,0],[0.46,-0.12],[0.466,-0.46],
[0.47,-0.3],[0.476,0.0],[0.482,-0.36],[0.488,0.02],[0.494,-0.33],[0.5,0.04],[0.506,-0.3],[0.512,0.06],[0.518,-0.27],[0.524,0.08],[0.53,-0.25],[0.536,0.1],[0.542,-0.22],[0.548,0.11],[0.554,-0.2],[0.56,0.13],[0.566,-0.18],[0.572,0.14],[0.578,-0.16],[0.584,0.16],[0.59,-0.14],[0.596,0.17],[0.602,-0.12],[0.608,0.19],[0.614,-0.1],[0.62,0.2],[0.626,-0.09],[0.632,0.22],[0.638,-0.08],[0.644,0.15],
[0.648,0.92],[0.655,0.45],[0.665,0.3],[0.675,0.2],[0.69,0.15],[0.705,0.1],[0.72,0.05],[0.735,0],[0.745,-0.1],[0.753,-0.34],
[0.758,-0.2],[0.764,0.0],[0.77,-0.28],[0.776,0.02],[0.782,-0.26],[0.788,0.04],[0.794,-0.24],[0.8,0.05],[0.806,-0.22],[0.812,0.07],[0.818,-0.2],[0.824,0.08],[0.83,-0.18],[0.836,0.1],[0.842,-0.16],[0.848,0.11],[0.854,-0.15],[0.86,0.13],[0.866,-0.13],[0.872,0.14],[0.878,-0.12],[0.884,0.16],[0.89,-0.1],[0.896,0.17],[0.902,-0.09],[0.908,0.19],[0.914,-0.08],[0.92,0.2],
[0.93,0.48],[0.938,0.3],[0.948,0.22],[0.96,0.16],[0.975,0.1],[0.99,0.06],[1.005,0.02],[1.012,-0.08],[1.02,-0.24],
[1.026,-0.12],[1.032,0.0],[1.038,-0.2],[1.044,0.01],[1.05,-0.18],[1.056,0.02],[1.062,-0.17],[1.068,0.03],[1.074,-0.16],[1.08,0.04],[1.086,-0.15],[1.092,0.05],[1.098,-0.14],[1.104,0.06],[1.11,-0.13],[1.116,0.07],[1.122,-0.12],[1.128,0.08],[1.134,-0.11],[1.14,0.09],[1.146,-0.1],[1.152,0.1],[1.158,-0.09],[1.164,0.11],[1.17,-0.08],[1.176,0.12],[1.182,-0.07],[1.188,0.13],[1.194,-0.06],[1.2,0.1],
[1.21,0.37],[1.22,0.25],[1.235,0.2],[1.25,0.15],[1.27,0.1],[1.29,0.05],[1.305,0.0],[1.315,-0.08],[1.322,-0.17],
[1.33,-0.1],[1.34,-0.12],[1.345,-0.02],[1.355,-0.11],[1.36,-0.01],[1.37,-0.1],[1.375,0.0],[1.385,-0.09],[1.39,0.01],[1.4,-0.09],[1.405,0.02],[1.415,-0.08],[1.42,0.02],[1.43,-0.07],[1.435,0.03],[1.445,-0.07],[1.45,0.04],[1.46,-0.06],[1.465,0.05],[1.475,-0.05],[1.48,0.06],[1.49,0.1],
[1.5,0.27],[1.51,0.22],[1.53,0.18],[1.55,0.15],[1.57,0.12],[1.585,0.1],[1.59,-0.54],[1.595,-0.05],[1.62,-0.06],[1.65,-0.07],[1.68,-0.06],[1.71,-0.07],[1.74,-0.06],[1.77,-0.05],
[1.78,0.12],[1.79,0.18],[1.81,0.16],[1.84,0.15],[1.86,0.14],[1.87,-0.04],[1.9,-0.05],[1.95,-0.06],[2.0,-0.05],[2.04,-0.04],
[2.05,0.12],[2.06,0.61],[2.066,0.15],[2.09,0.16],[2.12,0.14],[2.15,0.13],[2.16,-0.04],[2.2,-0.05],[2.25,-0.04],[2.3,-0.05],[2.33,-0.06],[2.335,-0.14],[2.34,-0.04],
[2.35,0.14],[2.38,0.15],[2.41,0.14],[2.44,0.13],[2.45,-0.03],[2.5,-0.04],[2.55,-0.05],[2.6,-0.04],[2.62,-0.03],
[2.63,0.1],[2.66,0.12],[2.69,0.13],[2.715,0.14],[2.72,0.3],[2.725,0.12],[2.74,-0.02],[2.78,-0.03],[2.82,-0.04],[2.85,-0.02],
[2.86,0.12],[2.88,0.15],[2.9,0.25],[2.905,0.14],[2.93,0.13],[2.96,0.12],[2.99,0.1],[2.995,-0.82],[3.0,-0.04],[3.04,-0.05],[3.08,-0.06],[3.12,-0.05],[3.16,-0.04],[3.185,-0.05],[3.19,-0.27],[3.195,-0.04],
[3.21,0.1],[3.23,0.12],[3.26,0.11],[3.29,0.1],[3.3,-0.03],[3.35,-0.04],[3.4,-0.05],[3.45,-0.04],[3.48,-0.03],[3.49,0.85],[3.495,0.1],[3.52,0.12],[3.54,0.1],[3.56,0.08],[3.6,0.05],[3.65,0.03],[3.7,0.02]
];
const spikesF = [
[0.04,-0.13,0.28],[0.061,-0.13,0.28],[0.082,-0.13,0.27],[0.103,-0.13,0.27],[0.124,-0.13,0.26],[0.145,-0.13,0.26],[0.166,-0.13,0.26],[0.187,-0.13,0.25],[0.208,-0.13,0.25],[0.229,-0.13,0.25],[0.25,-0.13,0.25],[0.271,-0.13,0.24],[0.292,-0.13,0.24],[0.313,-0.13,0.24],[0.334,-0.13,0.23],[0.355,-0.12,0.22]
];
const lowBandF = [[0.035,0.36,-0.13,-0.04]];

// ---------- layout (page pixels) ----------
const layout = [
  {data: posA, spikes: spikesA, band: lowBandA, blobs: blobA, ticks: posTicks, grid: posGrid, ydom: [-200, 200], ylabel: posLabel,
   svg: [0, 0, 312, 228], black: [40, 305, 7, 200], frame: [20, 307, 2, 210], xmax: 3.755, ylab: [13, 4], xlab: [179, 219], cap: [155, 241]},
  {data: velB, spikes: spikesB, band: lowBandB, blobs: blobB, ticks: velTicks, grid: velGrid, ydom: [-2, 2], ylabel: velLabel,
   svg: [310, 0, 330, 228], black: [355, 626.8, 19, 198], frame: [340, 629, 15, 208], xmax: 3.755, ylab: [330, -16], xlab: [505.5, 220], cap: [465, 243]},
  {data: posC, spikes: spikesC, band: lowBandC, ticks: posTicks, grid: posGrid, ydom: [-200, 200], ylabel: posLabel,
   svg: [0, 262, 312, 230], black: [44.3, 305, 275, 461.7], frame: [24, 306.5, 269, 473], xmax: 3.69, ylab: [13.5, 12], xlab: [186.7, 481.7], cap: [155, 508]},
  {data: velD, spikes: spikesD, band: lowBandD, ticks: velTicks, grid: velGrid, ydom: [-2, 2], ylabel: velLabel,
   svg: [310, 262, 330, 230], black: [354.3, 625.2, 280, 462], frame: [340, 628, 275, 473], xmax: 3.69, ylab: [331.5, -17], xlab: [505.8, 481.7], cap: [465, 508]},
  {data: posE, spikes: spikesE, band: lowBandE, ticks: posTicks, grid: posGrid, ydom: [-200, 200], ylabel: posLabel,
   svg: [0, 530, 312, 230], black: [35.7, 302, 540, 730], frame: [19, 305, 535, 737], xmax: 3.714, ylab: [11.5, 6], xlab: [186.7, 748.3], cap: [155, 775]},
  {data: velF, spikes: spikesF, band: lowBandF, ticks: velTicks, grid: velGrid, ydom: [-2, 2], ylabel: velLabel,
   svg: [310, 540, 330, 225], black: [356.7, 627.2, 550.7, 733.3], frame: [340, 630, 546.7, 743.3], xmax: 3.71, ylab: [331.5, -14], xlab: [505.8, 755], cap: [465, 775]}
];

const GREEN = "#26d226";
const SERIF = "Liberation Serif, Times New Roman, serif";
layout.forEach((p, i) => {
  const [sl, st, sw, sh] = p.svg;
  const [bl, br, bt, bb] = p.black;
  const [fl, fr, ft, fb] = p.frame;
  const marks = [
    Plot.frame({fill: "#808080", stroke: "none", insetLeft: fl - bl, insetRight: br - fr, insetTop: ft - bt, insetBottom: bb - fb}),
    Plot.frame({fill: "#000", stroke: "#a0a0a0", strokeWidth: 0.6}),
    Plot.gridX({ticks: xGrid, stroke: "#e6e6e6", strokeOpacity: 0.85, strokeDasharray: "1.5,1.5", strokeWidth: 1}),
    Plot.gridY({ticks: p.grid, stroke: "#e6e6e6", strokeOpacity: 0.85, strokeDasharray: "1.5,1.5", strokeWidth: 1})
  ];
  if (p.band) marks.push(Plot.rect(p.band, {x1: d => d[0], x2: d => d[1], y1: d => d[2], y2: d => d[3], fill: "#34e034", fillOpacity: 0.5}));
  if (p.spikes) marks.push(Plot.ruleX(p.spikes, {x: d => d[0], y1: d => d[1], y2: d => d[2], stroke: GREEN, strokeWidth: 0.9}));
  marks.push(Plot.line(p.data, {x: d => d[0], y: d => d[1], stroke: GREEN, strokeWidth: 1}));
  if (p.blobs) marks.push(Plot.dot(p.blobs, {x: d => d[0], y: d => d[1], r: 2.6, fill: "#4cff4c", stroke: "none"}));
  marks.push(Plot.ruleY([0], {stroke: "#c4c4c4", strokeWidth: 1.2}));
  marks.push(Plot.axisY({ticks: p.ticks, tickSize: 0, tickPadding: 2, tickFormat: d => String(d), fontSize: 7.5, fill: "#eeeeee", label: null}));
  marks.push(Plot.axisX({ticks: xTicks, tickSize: 0, tickPadding: 2, tickFormat: d => String(d), fontSize: 7.5, fill: "#eeeeee", label: null}));
  marks.push(Plot.text([p.ylabel], {text: d => d, frameAnchor: "left", textAnchor: "middle", lineAnchor: "middle", rotate: -90, dx: p.ylab[0] - bl, dy: p.ylab[1], fontSize: 9.6, fontFamily: SERIF, fill: "#000"}));
  marks.push(Plot.text([timeLabel], {text: d => d, frameAnchor: "bottom-left", textAnchor: "middle", lineAnchor: "middle", dx: p.xlab[0] - bl, dy: p.xlab[1] - bb, fontSize: 9.3, fontFamily: SERIF, fill: "#000"}));
  const chart = Plot.plot({
    width: sw, height: sh,
    marginLeft: bl - sl, marginRight: sl + sw - br, marginTop: bt - st, marginBottom: st + sh - bb,
    x: {domain: [0, p.xmax]},
    y: {domain: p.ydom},
    style: {background: "transparent", fontFamily: "Liberation Sans, Arial, sans-serif", overflow: "visible"},
    marks
  });
  const div = document.createElement("div");
  div.className = "panel";
  div.style.left = sl + "px"; div.style.top = st + "px";
  div.style.width = sw + "px"; div.style.height = sh + "px";
  div.appendChild(chart);
  document.body.appendChild(div);
  const cap = document.createElement("div");
  cap.className = "cap";
  cap.textContent = captions[i];
  cap.style.left = p.cap[0] + "px";
  cap.style.top = (p.cap[1] - 10) + "px";
  document.body.appendChild(cap);
});
</script>
</body></html>
